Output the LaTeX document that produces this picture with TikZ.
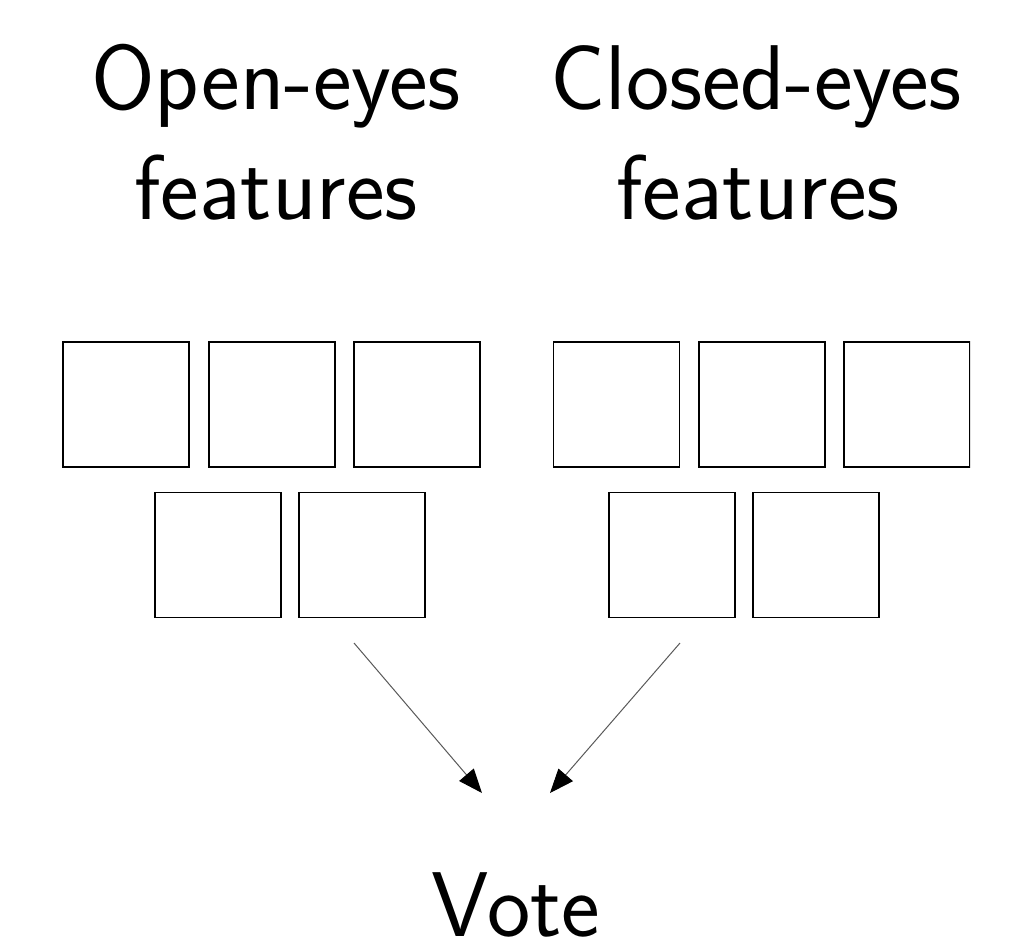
\documentclass[tikz,border=0pt]{standalone}
\usetikzlibrary{arrows.meta}
\begin{document}
\begin{tikzpicture}[x=1pt,y=-1pt,
  box/.style={draw=black,line width=1.8pt,minimum width=126pt,minimum height=125pt,inner sep=0pt,outer sep=0pt},
  bigtext/.style={font=\fontsize{92}{110}\selectfont\sffamily,anchor=base,inner sep=0pt},
  conn/.style={draw=black!65,line width=1pt,-{Triangle[length=24pt,width=19pt,black]}}]
\useasboundingbox[fill=white] (0,0) rectangle (1022,946);
\node[bigtext] (t1a) at (276,109) {Open-eyes};
\node[bigtext] (t1b) at (276,219) {features};
\node[bigtext] (t2a) at (756,109) {Closed-eyes};
\node[bigtext] (t2b) at (758,219) {features};
\node[bigtext] (vote) at (516,936) {Vote};
% open-eyes boxes
\node[box] (o1) at (126,404.5) {};
\node[box] (o2) at (272,404.5) {};
\node[box] (o3) at (417,404.5) {};
\node[box] (o4) at (218,555) {};
\node[box] (o5) at (362,555) {};
% closed-eyes boxes
\node[box] (c1) at (616.5,404.5) {};
\node[box] (c2) at (762,404.5) {};
\begin{scope}
\clip (0,0) rectangle (970,946);
\node[box] (c3) at (907,404.5) {};
\end{scope}
\node[box] (c4) at (672,555) {};
\node[box] (c5) at (816,555) {};
% arrows
\coordinate (a1s) at (354,643);
\coordinate (a1e) at (482,793);
\coordinate (a2s) at (680,643);
\coordinate (a2e) at (550,793);
\draw[conn] (a1s) -- (a1e);
\draw[conn] (a2s) -- (a2e);
\end{tikzpicture}
\end{document}
